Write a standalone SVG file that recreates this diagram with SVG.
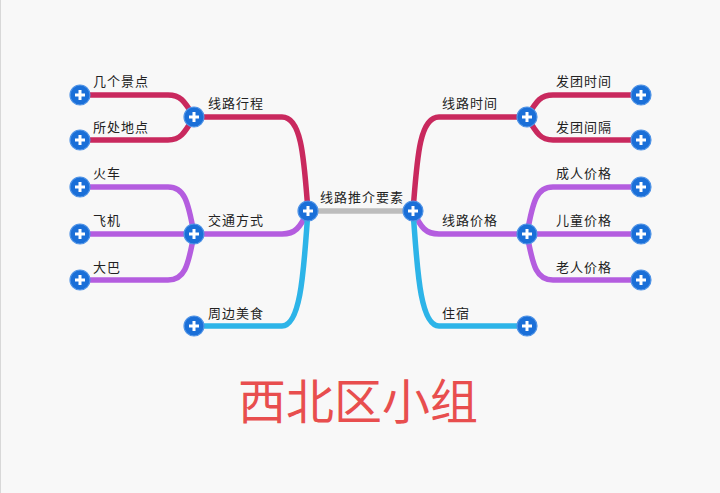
<svg xmlns="http://www.w3.org/2000/svg" xmlns:xlink="http://www.w3.org/1999/xlink" width="720" height="493" viewBox="0 0 720 493">
<defs>
<style>
.bg{fill:#f8f8f8}
.c{fill:none;stroke-linecap:round;stroke-linejoin:round;stroke-width:5.5}
.red{stroke:#c9295e}
.pur{stroke:#b45ddf}
.blu{stroke:#2db4e8}
.gry{stroke:#bdbdbd}
.lbl{font-family:"Noto Sans CJK SC","Noto Sans CJK JP",sans-serif;font-size:13px;letter-spacing:1px;fill:#222}
.title{font-family:"Noto Sans CJK SC","Noto Sans CJK JP",sans-serif;font-size:48px;fill:#e84e4e}
</style>
<g id="plus">
<circle r="10" fill="#1a6fd8" stroke="#4f93e6" stroke-width="1.2"/>
<path d="M-5,0H5M0,-5V5" stroke="#fff" stroke-width="3" stroke-linecap="butt"/>
</g>
</defs>
<rect class="bg" x="0" y="0" width="720" height="493"/>
<line x1="0.5" y1="0" x2="0.5" y2="493" stroke="#d8d8d8" stroke-width="1"/>

<g id="connectors">
<path class="c gry" d="M308,211H413"/>
<!-- left -->
<path class="c red" d="M308,211 C304,160 302,117 282,117 H194"/>
<path class="c pur" d="M308,211 C300,228 295,234 282,234 H194"/>
<path class="c blu" d="M308,211 C304,262 302,326 282,326 H194"/>
<path class="c red" d="M194,117 C184,100 180,95 168,95 H80"/>
<path class="c red" d="M194,117 C184,134 180,140 168,140 H80"/>
<path class="c pur" d="M194,234 C188,200 184,187 168,187 H80"/>
<path class="c pur" d="M194,234 H80"/>
<path class="c pur" d="M194,234 C188,268 184,280 168,280 H80"/>
<!-- right -->
<path class="c red" d="M413,211 C417,160 419,117 439,117 H527"/>
<path class="c pur" d="M413,211 C421,228 426,234 439,234 H527"/>
<path class="c blu" d="M413,211 C417,262 419,326 439,326 H527"/>
<path class="c red" d="M527,117 C537,100 541,95 553,95 H641"/>
<path class="c red" d="M527,117 C537,134 541,140 553,140 H641"/>
<path class="c pur" d="M527,234 C533,200 537,187 553,187 H641"/>
<path class="c pur" d="M527,234 H641"/>
<path class="c pur" d="M527,234 C533,268 537,280 553,280 H641"/>
</g>

<g id="root-left"><use xlink:href="#plus" x="308" y="211"/><text class="lbl" x="320" y="202">线路推介要素</text></g>
<g id="root-right"><use xlink:href="#plus" x="413" y="211"/></g>

<g id="n-xingcheng"><use xlink:href="#plus" x="194" y="117"/><text class="lbl" x="208" y="108">线路行程</text></g>
<g id="n-jiaotong"><use xlink:href="#plus" x="194" y="234"/><text class="lbl" x="208" y="225">交通方式</text></g>
<g id="n-meishi"><use xlink:href="#plus" x="194" y="326"/><text class="lbl" x="208" y="318">周边美食</text></g>
<g id="n-jingdian"><use xlink:href="#plus" x="80" y="95"/><text class="lbl" x="93" y="86">几个景点</text></g>
<g id="n-didian"><use xlink:href="#plus" x="80" y="140"/><text class="lbl" x="93" y="132">所处地点</text></g>
<g id="n-huoche"><use xlink:href="#plus" x="80" y="187"/><text class="lbl" x="93" y="178">火车</text></g>
<g id="n-feiji"><use xlink:href="#plus" x="80" y="234"/><text class="lbl" x="93" y="225">飞机</text></g>
<g id="n-daba"><use xlink:href="#plus" x="80" y="280"/><text class="lbl" x="93" y="272">大巴</text></g>

<g id="n-shijian"><use xlink:href="#plus" x="527" y="117"/><text class="lbl" x="442" y="108">线路时间</text></g>
<g id="n-jiage"><use xlink:href="#plus" x="527" y="234"/><text class="lbl" x="442" y="225">线路价格</text></g>
<g id="n-zhusu"><use xlink:href="#plus" x="527" y="326"/><text class="lbl" x="442" y="318">住宿</text></g>
<g id="n-fatuanshijian"><use xlink:href="#plus" x="641" y="95"/><text class="lbl" x="556" y="86">发团时间</text></g>
<g id="n-fatuanjiange"><use xlink:href="#plus" x="641" y="140"/><text class="lbl" x="556" y="132">发团间隔</text></g>
<g id="n-chengren"><use xlink:href="#plus" x="641" y="187"/><text class="lbl" x="556" y="178">成人价格</text></g>
<g id="n-ertong"><use xlink:href="#plus" x="641" y="234"/><text class="lbl" x="556" y="225">儿童价格</text></g>
<g id="n-laoren"><use xlink:href="#plus" x="641" y="280"/><text class="lbl" x="556" y="272">老人价格</text></g>

<text class="title" x="358" y="419" text-anchor="middle">西北区小组</text>
</svg>
